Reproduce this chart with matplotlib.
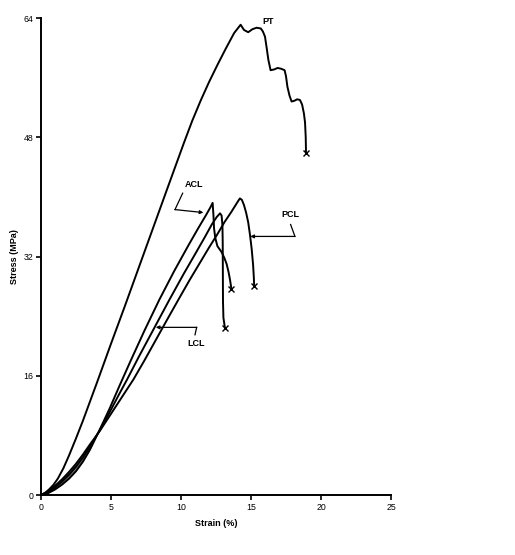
import matplotlib
matplotlib.use("Agg")
import matplotlib.pyplot as plt
import numpy as np

plt.rcParams["font.family"] = ["Liberation Sans", "DejaVu Sans"]

# stress-strain curves (strain %, stress MPa)
pt_strain = [0, 0.3, 0.6, 0.9, 1.2, 1.6, 2.0, 2.5, 3.0, 4.0, 5.0, 6.0, 7.0, 8.0, 9.0,
             9.6, 10.2, 10.8, 11.4, 12.0, 12.6, 13.2, 13.8, 14.26, 14.5, 14.8, 15.1,
             15.4, 15.7, 15.85, 16.0, 16.12, 16.24, 16.4, 16.65, 16.9, 17.15, 17.4,
             17.5, 17.6, 17.75, 17.9, 18.1, 18.3, 18.5, 18.65, 18.78, 18.86, 18.91,
             18.93]
pt_stress = [0, 0.3, 0.8, 1.4, 2.2, 3.6, 5.3, 7.6, 10.0, 15.1, 20.3, 25.4, 30.6, 35.8,
             41.0, 44.1, 47.2, 50.2, 52.9, 55.4, 57.7, 59.9, 62.0, 63.1, 62.4, 62.1,
             62.5, 62.7, 62.6, 62.2, 61.5, 60.0, 58.4, 57.0, 57.1, 57.3, 57.2, 57.0,
             56.2, 54.8, 53.6, 52.8, 52.9, 53.1, 53.0, 52.4, 51.2, 50.0, 48.0, 45.9]

acl_strain = [0, 0.5, 1.0, 1.5, 2.0, 2.5, 3.0, 3.5, 4.2, 4.9, 5.64, 6.4, 7.4, 8.45,
              9.5, 10.5, 11.2, 11.8, 12.1, 12.26, 12.32, 12.36, 12.45, 12.6, 12.9,
              13.1, 13.26, 13.4, 13.5, 13.6]
acl_stress = [0, 0.25, 0.75, 1.4, 2.2, 3.2, 4.5, 6.1, 8.8, 11.6, 14.8, 18.0, 22.1, 26.2,
              30.0, 33.4, 35.7, 37.6, 38.6, 39.2, 37.5, 35.8, 34.5, 33.4, 32.6,
              31.8, 31.0, 29.9, 28.9, 27.7]

lcl_strain = [0, 0.5, 1.0, 1.5, 2.0, 2.5, 3.0, 3.5, 4.2, 4.9, 5.6, 6.12, 7.0, 8.0, 9.17,
              10.2, 11.0, 11.7, 12.2, 12.55, 12.79, 12.9, 12.96, 12.98, 12.99, 13.0,
              13.03, 13.14]
lcl_stress = [0, 0.38, 1.0, 1.8, 2.72, 3.8, 5.05, 6.5, 8.7, 11.1, 13.6, 15.4, 18.6, 22.1,
              26.2, 29.7, 32.3, 34.6, 36.3, 37.3, 37.8, 37.5, 36.2, 34.0, 30.0, 26.0,
              23.8, 22.4]

pcl_strain = [0, 0.5, 1.0, 1.5, 2.0, 2.5, 3.0, 3.5, 4.2, 5.0, 5.8, 6.6, 7.4, 8.2, 9.0,
              9.81, 10.6, 11.3, 12.0, 12.6, 13.1, 13.6, 13.9, 14.1, 14.21, 14.35,
              14.5, 14.65, 14.8, 14.93, 15.05, 15.15, 15.2, 15.23]
pcl_stress = [0, 0.5, 1.25, 2.1, 3.1, 4.2, 5.45, 6.8, 8.6, 10.9, 13.2, 15.5, 18.1,
              20.8, 23.5, 26.2, 28.8, 31.0, 33.2, 35.0, 36.6, 38.0, 38.9, 39.5, 39.8,
              39.6, 38.9, 37.9, 36.6, 34.9, 33.0, 30.9, 29.3, 28.0]

x_ticks = [0, 5, 10, 15, 20, 25]
y_ticks = [0, 16, 32, 48, 64]

fig = plt.figure(figsize=(5.15, 5.55), dpi=100)
ax = fig.add_axes([0.0796, 0.108, 0.6796, 0.8595])

# toe region where the three ligament curves overlap (grey band)
toe = np.array(pcl_strain[:9])
ax.fill_between(toe, np.array(pcl_stress[:9]), np.array(acl_stress[:9]),
                color="#7f7f7f", lw=0)

lw = 1.4
for xs, ys in [(pt_strain, pt_stress), (acl_strain, acl_stress),
               (lcl_strain, lcl_stress), (pcl_strain, pcl_stress)]:
    ax.plot(xs, ys, color="black", lw=lw, solid_capstyle="round",
            solid_joinstyle="round")
    ax.plot(xs[-1], ys[-1], marker="x", color="black", ms=4, mew=1)

bold = dict(fontsize=6.5, fontweight="bold", color="black")
arrow = dict(arrowstyle="-|>", color="black", lw=0.9, mutation_scale=5,
             shrinkA=0, shrinkB=0)

# labels and leader lines
ax.text(16.2, 63.5, "PT", ha="center", va="center", **bold)

ax.text(10.9, 41.6, "ACL", ha="center", va="center", **bold)
ax.plot([10.12, 9.57], [40.5, 38.3], color="black", lw=0.9)
ax.annotate("", xy=(11.6, 37.9), xytext=(9.57, 38.3), arrowprops=arrow)

ax.text(11.1, 20.3, "LCL", ha="center", va="center", **bold)
ax.plot([11.0, 11.12], [21.5, 22.5], color="black", lw=0.9)
ax.annotate("", xy=(8.2, 22.5), xytext=(11.12, 22.5), arrowprops=arrow)

ax.text(17.8, 37.6, "PCL", ha="center", va="center", **bold)
ax.plot([17.83, 18.14], [36.3, 34.7], color="black", lw=0.9)
ax.annotate("", xy=(14.95, 34.7), xytext=(18.14, 34.7), arrowprops=arrow)

ax.set_xlim(0, 25)
ax.set_ylim(0, 64)
ax.set_xticks(x_ticks)
ax.set_yticks(y_ticks)
ax.tick_params(direction="out", length=3.5, width=1.2, labelsize=6.3, pad=2)
for side in ["top", "right"]:
    ax.spines[side].set_visible(False)
for side in ["left", "bottom"]:
    ax.spines[side].set_linewidth(1.4)

ax.set_xlabel("Strain (%)", fontsize=6.5, fontweight="bold", labelpad=5)
ax.set_ylabel("Stress (MPa)", fontsize=6.5, fontweight="bold", labelpad=3)

fig.savefig("out.png", dpi=100)
